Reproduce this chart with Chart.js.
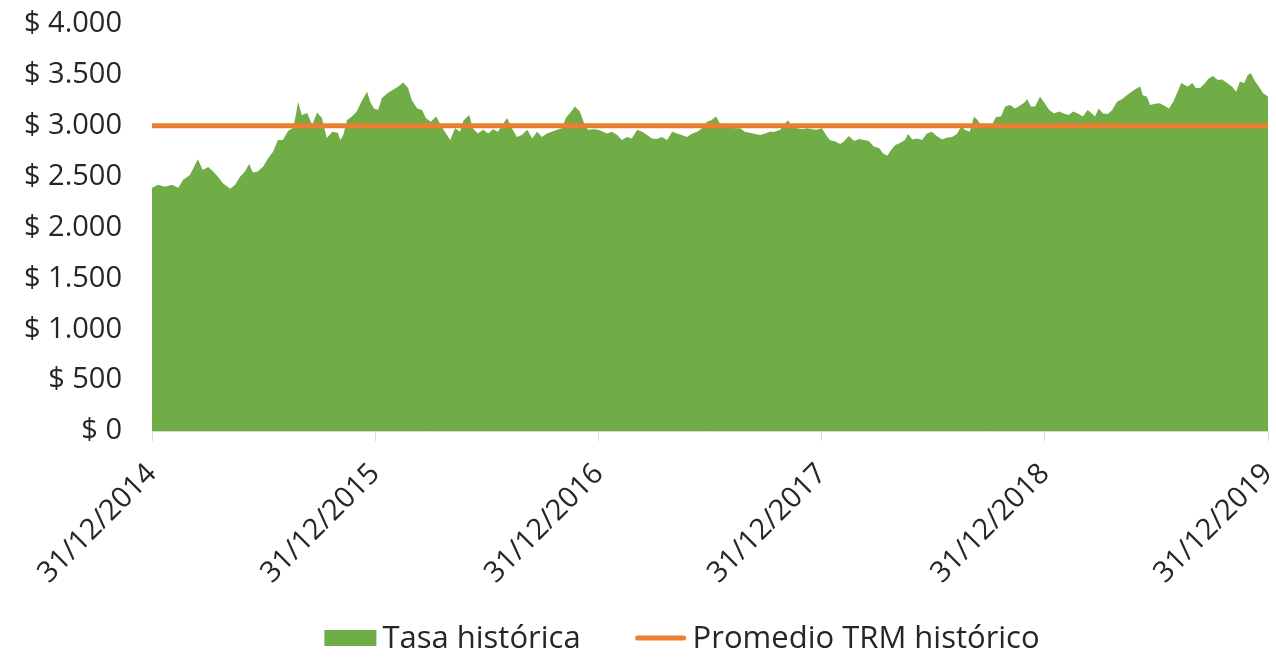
<!DOCTYPE html>
<html lang="es">
<head>
<meta charset="utf-8">
<title>Tasa histórica TRM</title>
<script src="https://cdn.jsdelivr.net/npm/chart.js@4"></script>
<style>
  html, body { margin: 0; padding: 0; background: #ffffff; }
  #wrap { width: 1276px; height: 657px; }
</style>
</head>
<body>
<div id="wrap"><canvas id="trmChart" width="1276" height="657"></canvas></div>
<script>
// Días desde el 31/12/2014 y tasa (COP por USD)
const dias = [
  0, 10, 21, 33, 43, 51, 62, 75, 83, 92, 100, 108, 116, 128, 136, 144, 152, 159, 165, 173,
  182, 190, 198, 206, 214, 223, 231, 236, 239, 245, 254, 262, 270, 278, 286, 295, 304, 308, 313, 319,
  327, 335, 344, 352, 357, 363, 370, 376, 385, 393, 403, 411, 419, 425, 434, 442, 448, 456, 465, 471,
  479, 488, 496, 504, 510, 519, 525, 533, 542, 550, 558, 566, 573, 581, 589, 597, 605, 614, 622, 630,
  638, 646, 654, 663, 671, 677, 686, 692, 700, 707, 713, 722, 730, 738, 744, 753, 761, 769, 777, 785,
  794, 802, 810, 818, 826, 834, 843, 851, 859, 867, 875, 884, 892, 900, 908, 915, 923, 929, 938, 946,
  954, 962, 970, 978, 987, 995, 1003, 1011, 1019, 1028, 1036, 1041, 1047, 1055, 1064, 1072, 1080, 1088, 1096, 1103,
  1109, 1118, 1126, 1132, 1140, 1149, 1157, 1165, 1173, 1181, 1190, 1196, 1203, 1209, 1216, 1224, 1232, 1237, 1244, 1252,
  1260, 1268, 1276, 1284, 1293, 1301, 1309, 1317, 1324, 1330, 1338, 1345, 1351, 1358, 1366, 1374, 1381, 1389, 1396, 1404,
  1412, 1419, 1427, 1432, 1438, 1445, 1453, 1459, 1468, 1476, 1484, 1492, 1500, 1507, 1515, 1523, 1531, 1538, 1543, 1549,
  1556, 1564, 1571, 1579, 1587, 1595, 1603, 1612, 1617, 1621, 1628, 1633, 1641, 1649, 1657, 1664, 1671, 1677, 1684, 1690,
  1695, 1702, 1708, 1715, 1723, 1729, 1736, 1744, 1751, 1759, 1767, 1774, 1780, 1787, 1793, 1798, 1805, 1811, 1818, 1823,
  1826
];
const tasa = [
  2390, 2420, 2400, 2420, 2390, 2470, 2515, 2670, 2565, 2595, 2550, 2500, 2435, 2380, 2420, 2500, 2550, 2625, 2540, 2550,
  2600, 2680, 2745, 2860, 2860, 2950, 2980, 3125, 3235, 3105, 3125, 3005, 3130, 3075, 2880, 2940, 2930, 2860, 2910, 3055,
  3090, 3140, 3253, 3335, 3235, 3170, 3155, 3270, 3320, 3350, 3385, 3425, 3370, 3253, 3170, 3155, 3075, 3040, 3090, 3025,
  2940, 2860, 2975, 2940, 3055, 3105, 2975, 2925, 2960, 2925, 2965, 2940, 3005, 3075, 2975, 2890, 2910, 2960, 2875, 2940,
  2890, 2925, 2940, 2960, 2975, 3075, 3140, 3190, 3140, 3025, 2960, 2965, 2960, 2940, 2925, 2940, 2910, 2860, 2890, 2875,
  2960, 2940, 2910, 2875, 2870, 2890, 2860, 2940, 2925, 2910, 2890, 2925, 2940, 2975, 3040, 3055, 3090, 3025, 2990, 2985,
  2975, 2975, 2940, 2930, 2920, 2910, 2925, 2940, 2940, 2960, 3025, 3055, 2990, 2975, 2965, 2975, 2965, 2960, 2975, 2910,
  2860, 2845, 2820, 2845, 2900, 2850, 2870, 2860, 2850, 2795, 2780, 2730, 2705, 2760, 2810, 2830, 2860, 2920, 2865, 2875,
  2860, 2925, 2940, 2900, 2865, 2885, 2890, 2920, 2990, 2960, 2940, 3090, 3055, 2990, 3005, 3005, 3085, 3090, 3190, 3205,
  3170, 3195, 3225, 3260, 3190, 3190, 3285, 3235, 3155, 3120, 3140, 3120, 3105, 3140, 3120, 3090, 3155, 3120, 3090, 3170,
  3120, 3115, 3155, 3235, 3260, 3300, 3335, 3370, 3385, 3300, 3285, 3205, 3215, 3220, 3195, 3170, 3235, 3320, 3420, 3400,
  3385, 3420, 3370, 3370, 3420, 3465, 3490, 3450, 3455, 3420, 3385, 3335, 3435, 3420, 3500, 3515, 3435, 3385, 3320, 3300,
  3285
];

// Promedio histórico de la TRM
const promedio = 3000;
const diasPromedio = [0, 1826];

// Ejes
const diasTicks = [0, 365, 731, 1096, 1461, 1826];
const etiquetasX = ['31/12/2014', '31/12/2015', '31/12/2016', '31/12/2017', '31/12/2018', '31/12/2019'];
const valoresY = [0, 500, 1000, 1500, 2000, 2500, 3000, 3500, 4000];
const etiquetasY = ['$ 0', '$ 500', '$ 1.000', '$ 1.500', '$ 2.000', '$ 2.500', '$ 3.000', '$ 3.500', '$ 4.000'];

const fuente = "'Open Sans', 'Lato', sans-serif";
const colorTexto = '#262626';
const verde = '#70AD47';
const naranja = '#ED7D31';

// Leyenda dibujada a mano (Chart.js no deja separar bien los items)
const leyenda = {
  id: 'leyenda',
  afterDraw(chart) {
    const c = chart.ctx;
    const centroX = 682, centroY = 638;
    const anchoMarca = 52, hueco = 6, separacion = 54;
    c.save();
    c.font = '31px ' + fuente;
    c.textBaseline = 'middle';
    c.fillStyle = colorTexto;
    const items = chart.data.datasets.map(ds => ({ ds, ancho: c.measureText(ds.label).width }));
    const total = items.reduce((s, it) => s + anchoMarca + hueco + it.ancho, 0) + separacion * (items.length - 1);
    let x = centroX - total / 2;
    items.forEach(({ ds, ancho }) => {
      if (ds.fill) {
        c.fillStyle = ds.backgroundColor;
        c.fillRect(x, centroY - 8, anchoMarca, 16);
      } else {
        c.strokeStyle = ds.borderColor;
        c.lineWidth = 5;
        c.lineCap = 'round';
        c.beginPath();
        c.moveTo(x + 3, centroY);
        c.lineTo(x + anchoMarca - 3, centroY);
        c.stroke();
      }
      c.fillStyle = colorTexto;
      c.fillText(ds.label, x + anchoMarca + hueco, centroY + 1);
      x += anchoMarca + hueco + ancho + separacion;
    });
    c.restore();
  }
};

const ctx = document.getElementById('trmChart');
new Chart(ctx, {
  type: 'line',
  data: {
    datasets: [
      {
        label: 'Tasa histórica',
        data: dias.map((d, i) => ({ x: d, y: tasa[i] })),
        backgroundColor: verde,
        borderColor: verde,
        borderWidth: 0,
        fill: 'origin',
        pointRadius: 0,
        tension: 0,
        order: 2
      },
      {
        label: 'Promedio TRM histórico',
        data: diasPromedio.map(d => ({ x: d, y: promedio })),
        backgroundColor: naranja,
        borderColor: naranja,
        borderWidth: 5,
        borderCapStyle: 'round',
        fill: false,
        pointRadius: 0,
        order: 1
      }
    ]
  },
  options: {
    responsive: false,
    animation: false,
    layout: { padding: { left: 0, right: 8, top: 24, bottom: 66 } },
    scales: {
      x: {
        type: 'linear',
        min: 0,
        max: 1826,
        afterBuildTicks: scale => { scale.ticks = diasTicks.map(v => ({ value: v })); },
        afterFit: scale => {
          scale.height = 160;
          scale.paddingLeft = 0;
          scale.paddingRight = 0;
        },
        grid: {
          drawOnChartArea: false,
          color: '#d9d9d9',
          tickLength: 10
        },
        border: { color: '#d9d9d9', width: 1 },
        ticks: {
          autoSkip: false,
          minRotation: 45,
          maxRotation: 45,
          padding: 16,
          color: colorTexto,
          font: { family: fuente, size: 29 },
          callback: (v, i) => etiquetasX[i]
        }
      },
      y: {
        min: 0,
        max: 4000,
        afterBuildTicks: scale => { scale.ticks = valoresY.map(v => ({ value: v })); },
        afterFit: scale => {
          scale.width = 152;
          scale.paddingTop = 0;
          scale.paddingBottom = 0;
        },
        grid: { display: false, drawTicks: false },
        border: { display: false },
        ticks: {
          padding: 30,
          color: colorTexto,
          font: { family: fuente, size: 29 },
          callback: (v, i) => etiquetasY[i]
        }
      }
    },
    plugins: {
      legend: { display: false },
      tooltip: { enabled: false }
    }
  },
  plugins: [leyenda]
});
</script>
</body>
</html>
